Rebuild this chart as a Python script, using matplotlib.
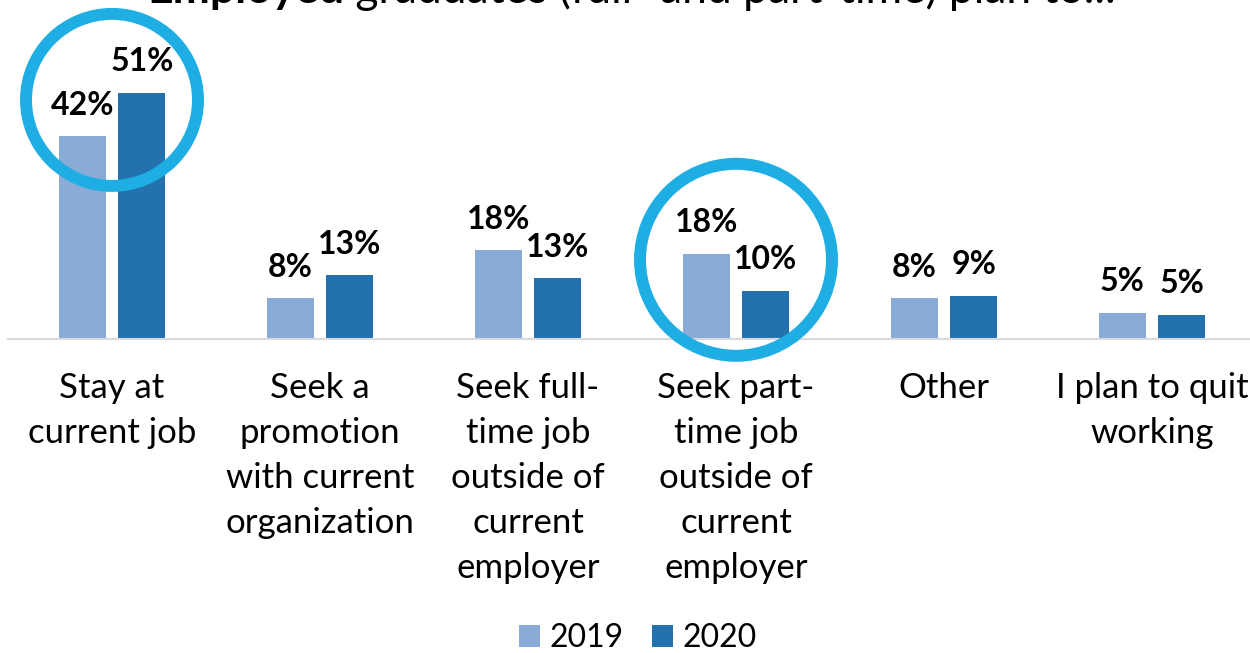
import numpy as np
import matplotlib.pyplot as plt

plt.rcParams['font.family'] = ['Lato', 'DejaVu Sans']

categories = [
    "Stay at\ncurrent job",
    "Seek a\npromotion\nwith current\norganization",
    "Seek full-\ntime job\noutside of\ncurrent\nemployer",
    "Seek part-\ntime job\noutside of\ncurrent\nemployer",
    "Other",
    "I plan to quit\nworking",
]
years = ["2019", "2020"]
values_2019 = [42, 8.4, 18.4, 17.6, 8.4, 5.4]
values_2020 = [51, 13.2, 12.6, 10.0, 8.9, 5.0]

# circled groups: group index, centre level (%), radius in px
circle_groups = [0, 3]
circle_levels = [49.5, 16.4]
circle_radius = [86, 96]

color_2019 = "#8AABD6"
color_2020 = "#2372AE"
circle_color = "#1FAEE3"

W, H = 1250, 653
fig = plt.figure(figsize=(W / 100, H / 100), dpi=100)
base_px = 339
px_per_pct = 4.83
ax = fig.add_axes([8 / W, (H - base_px) / H, 1248 / W, base_px / H])

x = np.arange(len(categories))
off = 0.143
bw = 0.226
b1 = ax.bar(x - off, values_2019, bw, color=color_2019, label=years[0])
b2 = ax.bar(x + off, values_2020, bw, color=color_2020, label=years[1])

for bars, vals in ((b1, values_2019), (b2, values_2020)):
    for rect, v in zip(bars, vals):
        ax.annotate(f"{v:.0f}%", (rect.get_x() + rect.get_width() / 2, v),
                    xytext=(0, 15.5), textcoords="offset points",
                    ha="center", va="baseline", fontsize=23, fontweight="bold")

ax.set_xlim(-0.5, len(categories) - 0.5)
ax.set_ylim(0, base_px / px_per_pct)
for s in ("left", "right", "top"):
    ax.spines[s].set_visible(False)
ax.spines["bottom"].set_color("#D9D9D9")
ax.spines["bottom"].set_linewidth(1.5)
ax.set_yticks([])
ax.set_xticks(x)
ax.set_xticklabels(categories, fontsize=25, linespacing=1.5, va="top")
ax.tick_params(axis="x", length=0, pad=24)

# highlight circles
for g, lvl, r in zip(circle_groups, circle_levels, circle_radius):
    d = 2 * r * 0.72
    ax.scatter([g], [lvl], s=d ** 2, facecolors="none", edgecolors=circle_color,
               linewidths=8.6, clip_on=False, zorder=5)

fig.legend(handles=[b1, b2], labels=years, loc="center", ncol=2,
           bbox_to_anchor=(638 / W, 15 / H), frameon=False, fontsize=23,
           handlelength=0.66, handleheight=0.66, handletextpad=0.3,
           columnspacing=0.9, borderpad=0)

# title, cut at the top edge
t1 = fig.text(147 / W, 1 - 3 / H, "Employed", fontsize=32, fontweight="bold",
              ha="left", va="baseline")
fig.canvas.draw()
bb = t1.get_window_extent()
fig.text(bb.x1 / W, 1 - 3 / H, " graduates (full- and part-time) plan to...",
         fontsize=32, ha="left", va="baseline")

fig.savefig("out.png", dpi=100)
